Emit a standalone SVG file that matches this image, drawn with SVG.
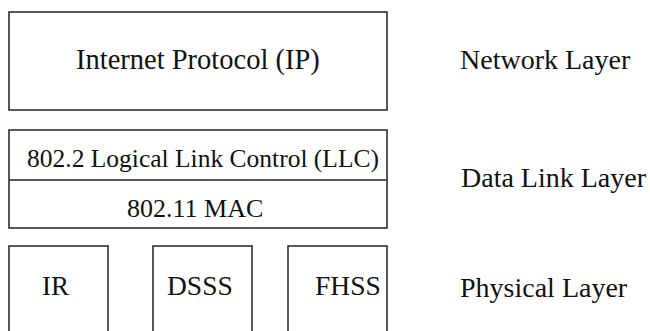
<svg xmlns="http://www.w3.org/2000/svg" width="650" height="331" viewBox="0 0 650 331">
<style>
.box{fill:#fff;stroke:#222;stroke-width:1.5}
text{font-family:'Liberation Serif','DejaVu Serif',serif;fill:#111}
</style>
<rect width="650" height="331" fill="#fff"/>
<g id="ip">
<rect class="box" x="9" y="12" width="378" height="98"/>
<text x="76" y="69" font-size="28.5">Internet Protocol (IP)</text>
</g>
<g id="datalink">
<rect class="box" x="9" y="130" width="378" height="98"/>
<line x1="9" y1="180" x2="387" y2="180" stroke="#222" stroke-width="1.5"/>
<text x="27" y="167" font-size="25.5">802.2 Logical Link Control (LLC)</text>
<text x="127" y="217" font-size="26">802.11 MAC</text>
</g>
<g id="ir">
<rect class="box" x="9" y="246" width="99" height="100"/>
<text x="42" y="295" font-size="27">IR</text>
</g>
<g id="dsss">
<rect class="box" x="153" y="246" width="99" height="100"/>
<text x="167" y="295" font-size="27.5">DSSS</text>
</g>
<g id="fhss">
<rect class="box" x="288" y="246" width="99" height="100"/>
<text x="315" y="295" font-size="27.5">FHSS</text>
</g>
<g id="labels">
<text x="460" y="69" font-size="28">Network Layer</text>
<text x="461" y="187" font-size="28">Data Link Layer</text>
<text x="460" y="297" font-size="28">Physical Layer</text>
</g>
<g id="connectors"/>
</svg>
